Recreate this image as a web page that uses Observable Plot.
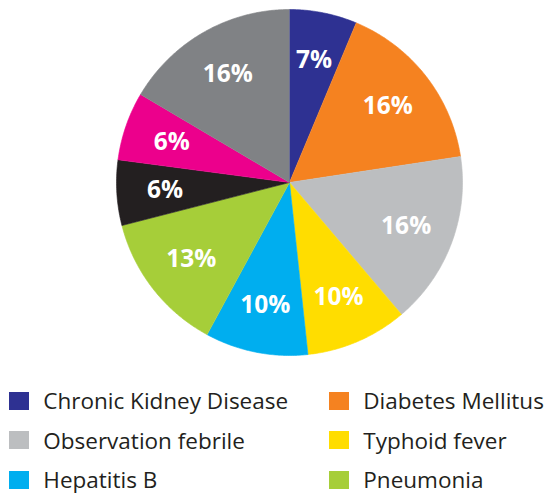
<!DOCTYPE html>
<html>
<head>
<meta charset="utf-8">
<script src="https://cdn.jsdelivr.net/npm/d3@7"></script>
<script src="https://cdn.jsdelivr.net/npm/@observablehq/plot@0.6"></script>
<style>
  html, body { margin: 0; padding: 0; background: #fff; overflow: hidden; }
  #legend {
    display: grid;
    grid-template-columns: 320px 216px;
    padding: 8.75px 0 0 9px;
    font-family: "Open Sans", "Noto Sans", sans-serif;
    font-size: 22.5px;
    color: #231f20;
  }
  .item { display: flex; align-items: center; height: 39.5px; white-space: nowrap; }
  .sw { width: 20px; height: 18px; margin-right: 14.3px; flex: none; }
</style>
</head>
<body>
<div id="chart"></div>
<div id="legend"></div>
<script>
// Categories in clockwise order from 12 o'clock (last three are not named in the visible legend)
const categories = [
  "Chronic Kidney Disease", "Diabetes Mellitus", "Observation febrile",
  "Typhoid fever", "Hepatitis B", "Pneumonia", "Category 7", "Category 8", "Category 9"
];
// Legend entries visible in the picture
const legendCategories = categories.slice(0, 6);
// Slice shares (%)
const values = [6.3, 16.3, 16.2, 9.5, 9.6, 13.1, 6.1, 6.4, 16.5];
// Data labels as printed
const labels = ["7%", "16%", "16%", "10%", "10%", "13%", "6%", "6%", "16%"];
const colors = ["#2e3192", "#f58220", "#bcbec0", "#ffdd00", "#00aeef", "#a6ce39", "#231f20", "#ec008c", "#808285"];

const pie = d3.pie().sort(null).value(d => d.value)(categories.map((c, i) => ({cat: c, value: values[i], label: labels[i]})));

// Slice outlines on a unit circle, angle clockwise from north
const pts = [];
for (const s of pie) {
  pts.push({cat: s.data.cat, x: 0, y: 0});
  const n = Math.max(2, Math.ceil((s.endAngle - s.startAngle) / 0.01));
  for (let k = 0; k <= n; k++) {
    const a = s.startAngle + (s.endAngle - s.startAngle) * k / n;
    pts.push({cat: s.data.cat, x: Math.sin(a), y: Math.cos(a)});
  }
}
const lr = 0.72;
const labelPts = pie.map(s => {
  const a = (s.startAngle + s.endAngle) / 2;
  return {label: s.data.label, x: lr * Math.sin(a), y: lr * Math.cos(a)};
});

const W = 545, H = 372;
const cx = 289, cy = 182, R = 173;
const chart = Plot.plot({
  width: W,
  height: H,
  marginLeft: cx - R,
  marginRight: W - (cx + R),
  marginTop: cy - R,
  marginBottom: H - (cy + R),
  x: {domain: [-1, 1], axis: null},
  y: {domain: [-1, 1], axis: null},
  color: {domain: categories, range: colors},
  marks: [
    Plot.line(pts, {x: "x", y: "y", z: "cat", fill: "cat", stroke: "cat", strokeWidth: 0.6, curve: "linear"}),
    Plot.text(labelPts, {x: "x", y: "y", text: "label", fill: "white", fontSize: 24.5, fontWeight: "bold",
      fontFamily: "'Open Sans', 'Noto Sans', sans-serif"})
  ]
});
document.getElementById("chart").appendChild(chart);

const legend = document.getElementById("legend");
legendCategories.forEach(c => {
  const item = document.createElement("div");
  item.className = "item";
  const sw = document.createElement("span");
  sw.className = "sw";
  sw.style.background = chart.scale("color").apply(c);
  const t = document.createElement("span");
  t.textContent = c;
  item.appendChild(sw);
  item.appendChild(t);
  legend.appendChild(item);
});
</script>
</body>
</html>
